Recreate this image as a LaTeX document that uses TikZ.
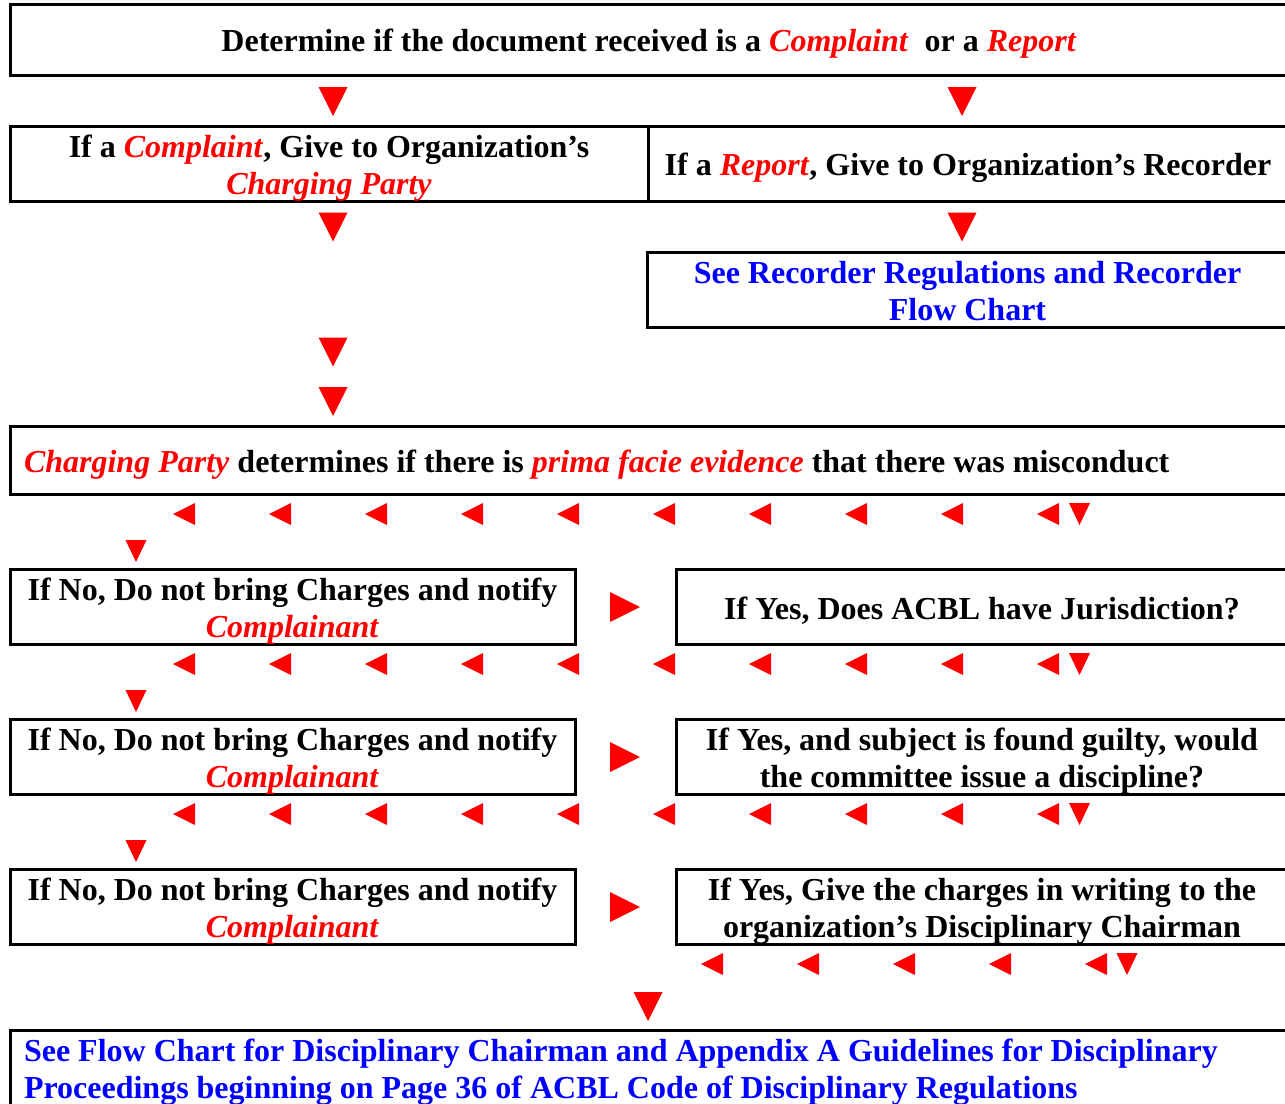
\documentclass[tikz,border=0pt]{standalone}
\usepackage{fontspec}
\setmainfont{Liberation Serif}
\usetikzlibrary{positioning}
\newcommand{\hl}[1]{\textcolor{red}{\textit{#1}}}

\begin{document}
\begin{tikzpicture}[x=1pt,y=-1pt,
	font=\fontsize{32}{37}\selectfont\bfseries,
	box/.style={draw,line width=3pt,outer sep=0pt,inner xsep=14pt,inner ysep=0pt,
		anchor=north west,align=flush center,
		execute at begin node={\rule{0pt}{31.5pt}},
		execute at end node={\rule[-6.5pt]{0pt}{0pt}}},
	bigtri/.style={fill=red},
	smalltri/.style={fill=red}]
	
	\useasboundingbox (0,0) rectangle (1285,1103);
	\clip (0,0) rectangle (1285,1103);
	
	%----------------------------
	% Boxes
	%----------------------------
	\node[box,text width=1250,minimum height=71] (doc) at (10,4)
	{Determine if the document received is a \hl{Complaint}\ \ or a \hl{Report}};
	
	\node[box,text width=610,minimum height=75] (compl) at (10,126)
	{If a \hl{Complaint}, Give to Organization's\\\hl{Charging Party}};
	\node[box,text width=612,minimum height=75] (report) at (648,126)
	{If a \hl{Report}, Give to Organization's Recorder};
	
	\node[box,text width=613,minimum height=75,text=blue] (recorder) at (647,252)
	{See Recorder Regulations and Recorder\\Flow Chart};
	
	\node[box,text width=1250,minimum height=68,align=flush left] (evidence) at (10,426)
	{\hl{Charging Party} determines if there is \hl{prima facie evidence} that there was misconduct};
	
	% three rows: No on the left, Yes on the right
	\foreach \y/\name in {569/one,719/two,869/three}
	\node[box,text width=537,minimum height=75] (no\name) at (10,\y)
	{If No, Do not bring Charges and notify\\\hl{Complainant}};
	
	\node[box,text width=584,minimum height=75] (yesone) at (676,569)
	{If Yes, Does ACBL have Jurisdiction?};
	\node[box,text width=584,minimum height=75] (yestwo) at (676,719)
	{If Yes, and subject is found guilty, would\\the committee issue a discipline?};
	\node[box,text width=584,minimum height=75] (yesthree) at (676,869)
	{If Yes, Give the charges in writing to the\\organization's Disciplinary Chairman};
	
	\node[box,text width=1250,minimum height=76,align=flush left,text=blue] (final) at (10,1030)
	{See Flow Chart for Disciplinary Chairman and Appendix A Guidelines for Disciplinary\\
		Proceedings beginning on Page 36 of ACBL Code of Disciplinary Regulations};
	
	%----------------------------
	% Big arrows (down and right)
	%----------------------------
	\foreach \x/\y in {333/101.5, 962/101.5, 333/227, 962/227,
		333/352, 333/401.5, 648/1006.5}
	\fill[bigtri,shift={(\x,\y)}] (-14.5,-14.5) -- (14.5,-14.5) -- (0,14.5) -- cycle;
	
	\foreach \y in {607,757,907}
	\fill[bigtri,shift={(625,\y)}] (-15,-15) -- (15,0) -- (-15,15) -- cycle;
	
	%----------------------------
	% Small arrows (rows going left)
	%----------------------------
	\foreach \y in {514,664,814}{
		\foreach \k in {0,...,9}
		\fill[smalltri,shift={(184+96*\k,\y)}] (11,-11) -- (11,11) -- (-11,0) -- cycle;
		\fill[smalltri,shift={(1079.5,\y)}] (-10.5,-11) -- (10.5,-11) -- (0,11) -- cycle;
		\fill[smalltri,shift={(136,\y+37)}] (-10.5,-11) -- (10.5,-11) -- (0,11) -- cycle;
	}
	
	\foreach \k in {0,...,4}
	\fill[smalltri,shift={(712+96*\k,964)}] (11,-11) -- (11,11) -- (-11,0) -- cycle;
	\fill[smalltri,shift={(1127,964)}] (-10.5,-11) -- (10.5,-11) -- (0,11) -- cycle;
	
\end{tikzpicture}
\end{document}
